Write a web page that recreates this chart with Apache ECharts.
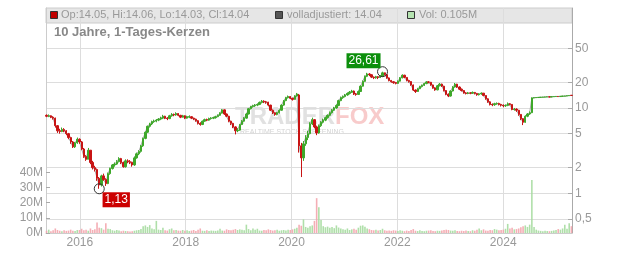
<!DOCTYPE html>
<html><head><meta charset="utf-8">
<script src="https://cdn.jsdelivr.net/npm/echarts@6/dist/echarts.min.js"></script>
<style>html,body{margin:0;padding:0;background:#fff}#c{width:632px;height:253px}</style>
</head><body><div id="c"></div>
<script>
// ---- data ----
const startYear = 2015.37;      // first candle (fractional year)
const stepYears = 0.0415;       // about half a month per candle
const yearTicks = [2016, 2018, 2020, 2022, 2024];
const priceTicks = [0.5, 1, 2, 5, 10, 20, 50];
const volumeTicks = [0, 10, 20, 30, 40];   // millions
const maxPoint = { t: 2015.37 + 153 * 0.0415, v: 26.61 };
const minPoint = { t: 2015.37 + 24 * 0.0415, v: 1.13 };
const headerTexts = ['Op:14.05, Hi:14.06, Lo:14.03, Cl:14.04', 'volladjustiert: 14.04', 'Vol: 0.105M'];
const titleText = '10 Jahre, 1-Tages-Kerzen';
// [open, close, low, high]
const candles = [
[8.2,8.0,7.8,8.4],[8.0,8.1,7.8,8.4],[8.1,7.8,7.6,8.2],[7.8,7.6,7.3,8.0],[7.6,6.2,5.9,7.7],[6.2,5.4,5.1,6.3],
[5.4,5.3,5.0,5.7],[5.3,5.6,5.2,5.9],[5.6,5.4,5.2,5.8],[5.4,5.0,4.8,5.5],[5.0,4.5,4.3,5.1],[4.5,4.0,3.8,4.6],
[4.0,3.5,3.4,4.1],[3.5,3.9,3.4,4.0],[3.9,4.3,3.8,4.5],
[4.3,4.0,3.8,4.4],[4.0,3.3,3.2,4.1],[3.3,2.7,2.6,3.4],[2.7,2.5,2.4,2.8],[2.5,3.2,2.5,3.4],[3.2,2.3,2.2,3.2],
[2.3,2.0,1.9,2.4],[2.0,1.9,1.8,2.1],[1.9,1.5,1.4,1.95],[1.5,1.25,1.13,1.55],[1.25,1.6,1.2,1.65],[1.6,1.45,1.4,1.7],
[1.45,1.3,1.22,1.5],[1.3,1.7,1.28,1.75],[1.7,1.95,1.65,2.0],[1.95,2.15,1.9,2.2],[2.15,2.2,2.05,2.3],[2.2,2.35,2.15,2.45],
[2.35,2.55,2.3,2.65],[2.55,2.3,2.2,2.6],[2.3,2.05,2.0,2.35],[2.05,2.4,2.0,2.5],[2.4,2.35,2.25,2.5],[2.35,2.3,2.2,2.45],
[2.3,2.15,2.05,2.35],[2.15,2.6,2.1,2.7],[2.6,2.9,2.55,3.0],[2.9,3.1,2.8,3.2],[3.1,3.6,3.0,3.7],[3.6,4.4,3.5,4.5],
[4.4,5.2,4.3,5.3],[5.2,6.1,5.1,6.2],[6.1,6.5,5.9,6.7],[6.5,6.9,6.3,7.1],[6.9,7.0,6.7,7.3],[7.0,7.2,6.8,7.4],
[7.2,7.4,7.0,7.6],[7.4,7.6,7.2,7.9],[7.6,8.0,7.4,8.3],[8.0,7.6,7.4,8.1],[7.6,7.5,7.2,7.8],[7.5,8.1,7.4,8.3],
[8.1,8.4,7.9,8.7],[8.4,8.3,8.0,8.6],[8.3,8.6,8.1,8.9],[8.6,8.2,8.0,8.7],[8.2,7.8,7.6,8.3],[7.8,8.1,7.7,8.3],
[8.1,7.6,7.4,8.2],[7.6,7.9,7.5,8.1],[7.8,7.9,7.6,8.2],[7.9,7.6,7.4,8.0],[7.6,7.4,7.2,7.7],[7.4,7.1,6.9,7.5],
[7.1,6.6,6.4,7.2],[6.6,6.4,6.2,6.8],[6.4,7.0,6.3,7.1],[7.0,7.3,6.9,7.5],[7.3,7.2,7.0,7.5],[7.2,7.5,7.1,7.7],
[7.5,7.6,7.3,7.8],[7.6,7.7,7.4,7.9],[7.7,7.9,7.5,8.1],[7.9,8.2,7.8,8.4],[8.2,8.7,8.1,8.9],[8.7,9.5,8.6,9.7],
[9.5,8.5,8.3,9.6],[8.5,8.0,7.8,8.6],[8.0,7.0,6.8,8.1],[7.0,6.6,6.3,7.1],[6.6,6.0,5.8,6.7],[6.0,5.4,4.9,6.1],
[5.4,5.5,5.2,5.8],[5.5,6.4,5.4,6.5],[6.4,7.0,6.3,7.2],[7.0,7.6,6.9,7.8],[7.6,8.5,7.5,8.7],[8.5,9.8,8.4,10.0],
[9.8,10.4,9.6,10.6],[10.4,10.6,10.1,10.9],[10.6,10.8,10.3,11.1],[10.8,11.0,10.5,11.3],[11.0,11.6,10.8,11.9],[11.6,12.0,11.3,12.4],
[12.0,11.8,11.4,12.3],[11.8,11.7,11.2,12.1],[11.7,10.8,10.5,11.8],[10.8,9.4,9.2,10.9],[9.4,8.8,8.5,9.6],[8.8,8.4,8.1,8.9],
[8.4,8.8,8.2,9.0],[8.8,9.4,8.6,9.6],[9.4,10.8,9.3,11.0],[10.8,12.2,10.6,12.4],[12.2,13.2,12.0,13.5],[13.2,13.6,12.9,14.0],
[13.6,13.0,12.7,13.8],[13.0,12.6,12.2,13.2],[12.6,13.8,12.5,14.1],[13.8,14.6,13.6,15.0],[14.2,3.6,3.0,14.6],[3.6,2.6,1.55,3.9],
[2.6,3.8,2.4,4.1],[3.8,4.5,3.6,4.8],[4.5,5.0,4.2,5.4],[5.0,6.5,4.9,6.8],[6.5,7.3,6.3,7.7],[7.3,6.0,5.8,7.4],
[6.0,5.1,4.8,6.2],[5.1,6.2,5.0,6.4],[6.2,6.8,6.0,7.0],[6.8,7.2,6.6,7.5],[7.2,7.7,7.0,7.9],[7.7,8.2,7.5,8.4],
[8.2,8.8,8.0,9.1],[8.8,9.4,8.6,9.7],[9.4,10.0,9.2,10.3],[10.0,10.7,9.8,11.0],[10.7,12.2,10.5,12.5],[12.2,13.2,12.0,13.6],
[13.2,13.6,12.8,14.0],[13.6,14.2,13.3,14.6],[14.2,14.8,13.9,15.2],[14.8,15.3,14.4,15.8],[15.3,15.8,15.0,16.3],[15.8,14.6,14.2,16.0],
[14.6,14.4,13.9,15.0],[14.4,15.6,14.2,16.0],[15.6,18.0,15.4,18.4],[18.0,20.5,17.8,21.0],[20.5,23.5,20.2,24.0],[23.5,25.0,23.0,25.8],
[25.0,24.5,23.6,25.6],[24.5,23.0,22.4,24.8],[23.0,22.6,21.8,23.4],[22.6,23.2,22.0,23.8],[23.2,22.8,21.8,23.6],[22.8,23.5,22.4,24.2],
[23.5,25.8,23.2,26.61],[25.8,24.6,24.0,26.0],[24.6,22.5,22.0,24.8],[22.5,21.0,20.5,22.8],[21.0,20.3,19.8,21.3],[20.3,19.8,19.2,20.6],
[19.8,19.4,18.9,20.2],[19.4,20.6,19.2,21.0],[20.6,22.5,20.4,23.0],[22.5,24.2,22.2,24.8],[24.2,22.8,22.3,24.5],[22.8,21.0,20.5,23.0],
[21.0,20.4,19.8,21.4],[20.4,18.6,18.2,20.6],[18.6,16.2,15.8,18.8],[16.2,15.6,15.0,16.5],[15.6,16.8,15.4,17.2],[16.8,17.8,16.6,18.2],
[17.8,18.4,17.4,18.8],[18.4,19.3,18.1,19.7],[19.3,20.2,19.0,20.6],[20.2,20.0,19.4,20.6],[20.0,18.6,18.2,20.2],[18.6,17.2,16.8,18.8],
[17.2,16.3,15.9,17.5],[16.3,18.2,16.1,18.6],[18.2,19.0,17.9,19.6],[19.0,18.0,17.6,19.3],[18.0,16.0,15.6,18.2],[16.0,14.5,14.1,16.2],
[14.5,13.8,13.4,14.8],[13.8,15.8,13.6,16.1],[15.8,17.6,15.6,18.0],[17.6,19.0,17.3,19.6],[19.0,17.6,17.2,19.2],[17.6,16.6,16.2,17.9],
[16.6,16.0,15.6,16.9],[16.0,15.0,14.7,16.2],[15.0,14.8,14.4,15.3],[14.8,15.0,14.5,15.4],[15.0,14.9,14.5,15.3],[14.9,15.2,14.6,15.6],
[15.2,14.8,14.4,15.4],[14.8,14.3,13.9,15.0],[14.3,14.6,14.0,14.9],[14.6,14.9,14.3,15.2],[14.9,14.0,13.7,15.0],[14.0,12.8,12.5,14.1],
[12.8,11.8,11.5,13.0],[11.8,11.0,10.7,12.0],[11.0,10.9,10.5,11.3],[10.9,11.2,10.6,11.5],[11.2,11.3,10.9,11.6],[11.3,11.0,10.7,11.5],
[11.0,10.8,10.4,11.2],[10.8,10.6,10.2,11.0],[10.6,10.7,10.3,11.0],[10.7,11.2,10.5,11.6],[11.2,11.0,10.7,11.4],[11.0,9.6,9.4,11.1],
[9.6,9.7,9.3,10.0],[9.7,9.4,9.0,9.9],[9.4,8.4,8.1,9.5],[8.4,7.5,7.2,8.5],[7.5,6.8,6.3,7.6],[6.8,8.0,6.7,8.2],
[8.0,8.5,7.8,8.7],[8.5,8.8,8.3,9.1],[8.8,13.1,8.7,13.3],[13.1,13.2,13.0,13.3],[13.2,13.25,13.1,13.35],[13.25,13.3,13.2,13.4],
[13.3,13.35,13.2,13.45],[13.35,13.4,13.3,13.5],[13.4,13.45,13.3,13.55],[13.45,13.5,13.4,13.6],[13.5,13.45,13.35,13.6],[13.45,13.55,13.4,13.65],
[13.55,13.6,13.5,13.7],[13.6,13.65,13.5,13.75],[13.65,13.6,13.45,13.7],[13.6,13.7,13.55,13.8],[13.7,13.75,13.6,13.85],[13.75,13.8,13.7,13.9],
[13.8,13.9,13.75,14.0],[13.9,14.0,13.85,14.05],[14.05,14.04,14.03,14.06]
];
// volume per candle, millions
const volumesM = [
1.5,2.2,1.2,1.8,3.0,2.0,1.5,1.2,1.8,1.4,1.6,2.2,1.5,1.3,2.0,
2.0,2.8,1.8,2.2,1.5,3.0,2.0,2.4,7.0,3.5,3.2,2.2,6.5,2.8,2.6,1.8,1.5,2.0,1.6,1.2,1.5,1.3,1.2,1.0,
1.2,1.5,1.8,2.0,2.6,4.5,5.0,4.0,5.2,3.0,2.5,8.0,2.2,2.0,3.5,1.8,1.6,2.5,3.0,1.8,2.0,1.6,1.5,2.0,
1.5,1.8,1.3,1.6,2.0,1.4,2.2,3.0,1.5,1.4,1.8,1.3,1.6,1.5,1.4,1.7,2.8,1.6,1.5,2.4,2.0,1.8,2.2,2.6,
2.0,2.4,2.2,1.8,5.5,2.6,1.8,3.0,2.2,2.8,1.6,1.5,2.0,1.8,2.4,2.0,1.6,1.8,2.2,1.5,1.8,2.0,1.6,2.2,
2.0,2.4,2.8,3.5,5.5,4.8,9.0,4.0,3.5,4.5,5.0,8.0,23.0,17.0,8.5,4.5,3.8,4.2,3.5,4.0,3.2,5.0,3.6,3.0,
2.5,2.2,3.0,2.0,2.4,2.8,2.2,3.5,4.8,5.0,4.2,3.0,2.5,2.0,1.8,2.2,1.6,2.0,2.8,1.8,1.5,1.6,1.4,1.8,
1.6,1.4,1.8,1.5,1.2,1.6,1.4,2.0,2.6,1.5,1.3,1.8,1.4,1.2,1.5,1.6,1.8,1.3,1.2,1.5,1.4,1.7,1.9,2.2,
2.0,1.6,1.5,1.8,1.4,1.2,1.5,1.3,1.6,1.4,1.2,1.8,1.5,2.2,3.0,1.8,2.4,1.6,1.5,2.0,1.8,2.6,2.2,1.8,
2.0,2.2,2.8,6.0,3.0,3.5,2.4,2.6,3.0,3.8,4.5,5.0,4.0,5.5,35.0,4.0,2.2,1.6,1.4,1.2,1.5,1.3,1.2,1.4,
1.6,2.0,2.6,2.2,3.0,5.5,2.8,6.5,4.5
];

// ---- build ----
const UP = '#3ea82a', DOWN = '#c81414', VUP = '#a6dba0', VDOWN = '#f3a5ad';
const n = Math.min(candles.length, volumesM.length);
const times = candles.map((_, i) => +(startYear + i * stepYears).toFixed(4));
const candleData = candles.map((c, i) => [times[i], c[0], c[1], c[2], c[3]]);
const closeLine = candles.map((c, i) => [times[i], c[1]]);
const volData = volumesM.slice(0, n).map((v, i) => ({
  value: [times[i], v],
  itemStyle: { color: candles[i][1] >= candles[i][0] ? VUP : VDOWN }
}));
const fmtNum = v => String(v).replace('.', ',');

const chart = echarts.init(document.getElementById('c'), null, { renderer: 'canvas' });
chart.setOption({
  animation: false,
  textStyle: { fontFamily: 'Liberation Sans, Arial, sans-serif' },
  grid: { left: 46, right: 60, top: 8, bottom: 20 },
  xAxis: {
    type: 'value', min: 2015.36, max: 2025.30,
    axisLine: { show: true, lineStyle: { color: '#ccc' } },
    axisTick: { show: false, customValues: yearTicks },
    axisLabel: { customValues: yearTicks, color: '#999', fontSize: 12, margin: 4, formatter: v => String(Math.round(v)) },
    splitLine: { show: true, lineStyle: { color: '#ddd', width: 1 } }
  },
  yAxis: [
    {
      type: 'log', logBase: 10, position: 'right', min: 0.3426, max: 148.4,
      axisLine: { show: true, lineStyle: { color: '#aaa' } },
      axisTick: { show: true, inside: true, length: 4, customValues: priceTicks, lineStyle: { color: '#aaa' } },
      axisLabel: { customValues: priceTicks, color: '#999', fontSize: 12, margin: 3, formatter: v => fmtNum(v) },
      splitLine: { show: true, lineStyle: { color: '#ddd', width: 1 } }
    },
    {
      type: 'value', position: 'left', min: 0, max: 148.5,
      axisLine: { show: true, lineStyle: { color: '#ccc' } },
      axisTick: { show: true, inside: true, length: 4, customValues: volumeTicks, lineStyle: { color: '#aaa' } },
      axisLabel: { customValues: volumeTicks, color: '#999', fontSize: 12, margin: 3, formatter: v => v + 'M' },
      splitLine: { show: false }
    }
  ],
  graphic: { elements: [
    { type: 'rect', z: -10, shape: { x: 46, y: 8, width: 526, height: 15 }, style: { fill: '#e6e6e6', stroke: '#ccc', lineWidth: 1 } },
    { type: 'rect', z: 10, shape: { x: 50.5, y: 11.5, width: 7, height: 7 }, style: { fill: '#c00000', stroke: '#333', lineWidth: 1 } },
    { type: 'text', z: 10, left: 61, top: 9, style: { text: headerTexts[0], fill: '#999', font: '11px Liberation Sans, Arial, sans-serif' } },
    { type: 'rect', z: 10, shape: { x: 275.5, y: 11.5, width: 7, height: 7 }, style: { fill: '#555', stroke: '#333', lineWidth: 1 } },
    { type: 'text', z: 10, left: 287, top: 9, style: { text: headerTexts[1], fill: '#999', font: '11px Liberation Sans, Arial, sans-serif' } },
    { type: 'rect', z: 10, shape: { x: 407.5, y: 11.5, width: 7, height: 7 }, style: { fill: '#b5e3b0', stroke: '#333', lineWidth: 1 } },
    { type: 'text', z: 10, left: 419, top: 9, style: { text: headerTexts[2], fill: '#999', font: '11px Liberation Sans, Arial, sans-serif' } },
    { type: 'text', z: 10, left: 54, top: 26, style: { text: titleText, fill: '#888', font: 'bold 13px Liberation Sans, Arial, sans-serif' } },
    { type: 'text', z: -5, left: 235, top: 105, style: { text: 'TRADER', fill: 'rgba(195,195,195,0.5)', font: 'bold 24px Liberation Sans, Arial, sans-serif' } },
    { type: 'text', z: -5, left: 335, top: 105, style: { text: 'FOX', fill: 'rgba(240,140,140,0.45)', font: 'bold 24px Liberation Sans, Arial, sans-serif' } },
    { type: 'text', z: -5, left: 240, top: 129, style: { text: 'REALTIME STOCK SCREENING', fill: 'rgba(180,180,180,0.6)', font: '7px Liberation Sans, Arial, sans-serif' } }
  ]},
  series: [
    {
      type: 'bar', xAxisIndex: 0, yAxisIndex: 1, data: volData, barWidth: 1.6, z: 1,
      itemStyle: { opacity: 0.9 }
    },
    {
      type: 'line', xAxisIndex: 0, yAxisIndex: 0, data: closeLine, symbol: 'none', z: 2,
      lineStyle: { color: '#aaa', width: 1 }
    },
    {
      type: 'candlestick', xAxisIndex: 0, yAxisIndex: 0, data: candleData, z: 3,
      encode: { x: 0, y: [1, 2, 3, 4] }, barWidth: 1.8,
      itemStyle: { color: UP, color0: DOWN, borderColor: UP, borderColor0: DOWN, borderWidth: 1 },
      markPoint: {
        symbol: 'circle', symbolSize: 10,
        itemStyle: { color: 'rgba(0,0,0,0)', borderColor: '#333', borderWidth: 1 },
        data: [
          { coord: [maxPoint.t, maxPoint.v], label: { show: true, formatter: fmtNum(maxPoint.v), position: 'inside', offset: [-19, -11], backgroundColor: '#0c8f0c', color: '#fff', padding: [2, 2, 1, 2], fontSize: 12 } },
          { coord: [minPoint.t, minPoint.v], label: { show: true, formatter: fmtNum(minPoint.v), position: 'inside', offset: [17, 11], backgroundColor: '#cc0000', color: '#fff', padding: [2, 2, 1, 2], fontSize: 12 } }
        ]
      }
    }
  ]
});
</script></body></html>
